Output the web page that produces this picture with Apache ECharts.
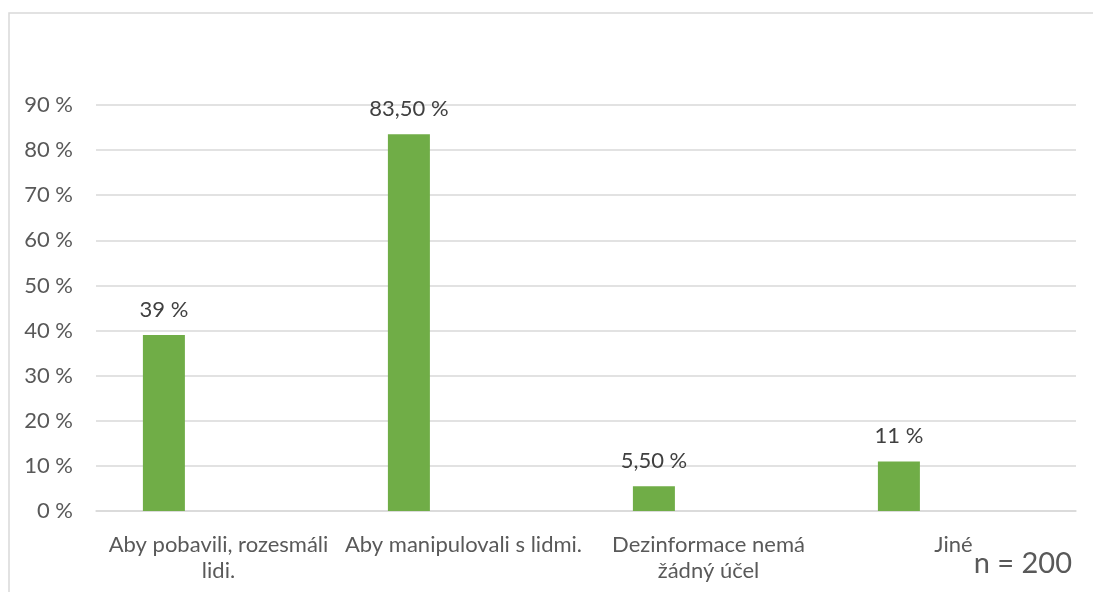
<!DOCTYPE html>
<html>
<head>
<meta charset="utf-8">
<script src="https://cdn.jsdelivr.net/npm/echarts@6/dist/echarts.min.js"></script>
<style>
  html, body { margin: 0; padding: 0; background: #fff; }
  #chart { width: 1093px; height: 592px; }
</style>
</head>
<body>
<div id="chart"></div>
<script>
// data
const categories = [
  "Aby pobavili, rozesmáli\nlidi.",
  "Aby manipulovali s lidmi.",
  "Dezinformace nemá\nžádný účel",
  "Jiné"
];
const values = [39, 83.5, 5.5, 11];
const valueLabels = ["39 %", "83,50 %", "5,50 %", "11 %"];
const yTicks = [0, 10, 20, 30, 40, 50, 60, 70, 80, 90];

const textColor = "#595959";
const gridColor = "#d9d9d9";
const font = "Lato, sans-serif";

const chart = echarts.init(document.getElementById("chart"));

const option = {
  animation: false,
  backgroundColor: "#fff",
  grid: { left: 96, right: 17, top: 105, bottom: 81 },
  xAxis: {
    type: "category",
    data: categories,
    axisLine: { lineStyle: { color: gridColor, width: 1.5 } },
    axisTick: { show: false },
    axisLabel: {
      interval: 0,
      color: textColor,
      fontFamily: font,
      fontSize: 22,
      lineHeight: 26,
      margin: 21
    }
  },
  yAxis: {
    type: "value",
    min: yTicks[0],
    max: yTicks[yTicks.length - 1],
    interval: 10,
    axisLine: { show: false },
    axisTick: { show: false },
    splitLine: { lineStyle: { color: gridColor, width: 1.5 } },
    axisLabel: {
      color: textColor,
      fontFamily: font,
      fontSize: 22,
      margin: 23,
      formatter: (v) => v + " %"
    }
  },
  series: [
    {
      type: "bar",
      data: values,
      barWidth: 42,
      barGap: "160%",
      itemStyle: { color: "#70ad47" },
      label: {
        show: true,
        position: "top",
        distance: 14,
        color: "#404040",
        fontFamily: font,
        fontSize: 22,
        formatter: (p) => valueLabels[p.dataIndex]
      }
    },
    {
      // empty second series, keeps the bars shifted left like the original
      type: "bar",
      data: values.map(() => null),
      barWidth: 42
    }
  ],
  graphic: [
    {
      type: "rect",
      shape: { x: 9, y: 13, width: 1200, height: 700 },
      style: { fill: null, stroke: gridColor, lineWidth: 1.5 },
      silent: true
    },
    {
      type: "text",
      right: 21,
      top: 549,
      style: {
        text: "n = 200",
        fill: textColor,
        font: "29px " + font
      }
    }
  ]
};

chart.setOption(option);
</script>
</body>
</html>
